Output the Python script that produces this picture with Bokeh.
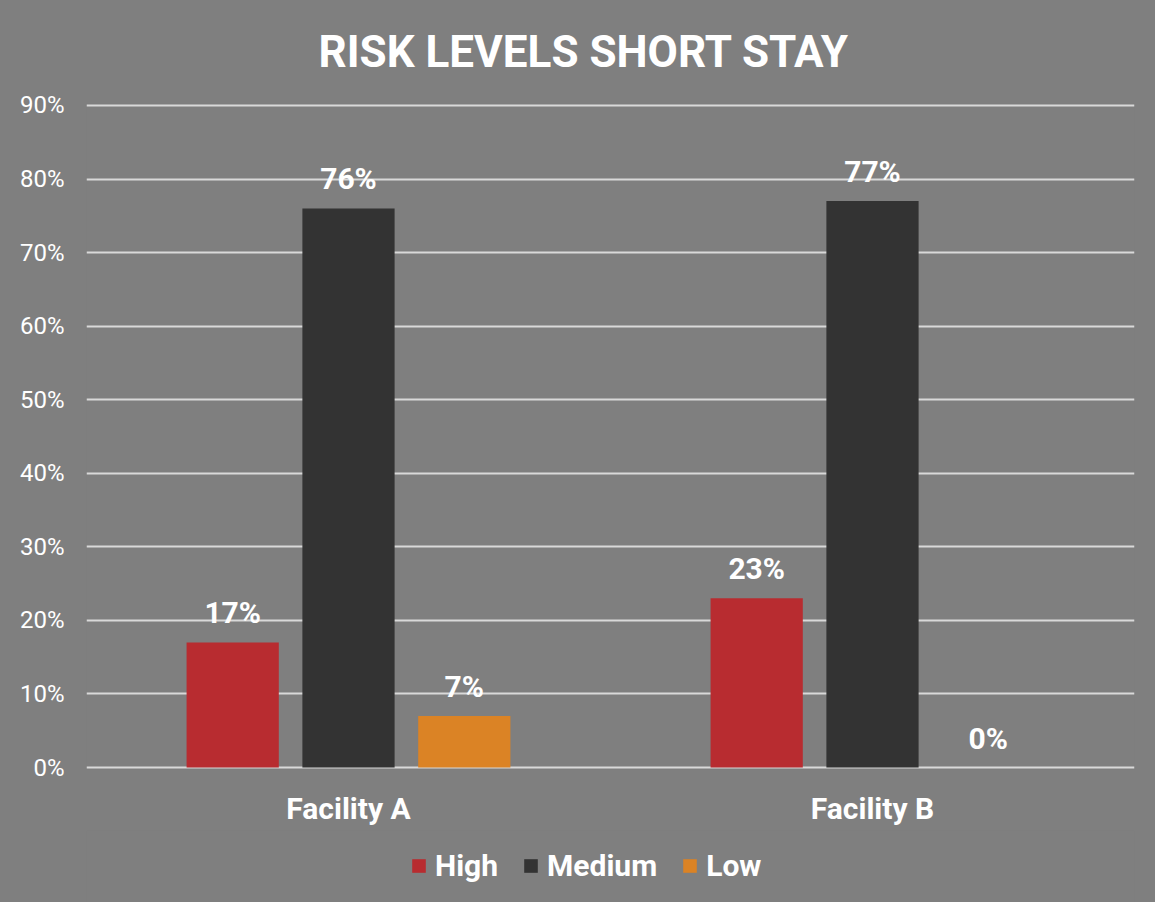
from bokeh.plotting import figure
from bokeh.models import ColumnDataSource, FactorRange, Legend, LegendItem, LabelSet, NumeralTickFormatter, FixedTicker, Range1d
from bokeh.layouts import column
from bokeh.core.properties import value
from bokeh.transform import dodge
from bokeh.embed import file_html
from bokeh.resources import INLINE

facilities = ["Facility A", "Facility B"]
high = [0.17, 0.23]
medium = [0.76, 0.77]
low = [0.07, 0.0]
series_names = ["High", "Medium", "Low"]
colors = ["#b82c30", "#333333", "#db8325"]
y_ticks = [0, 0.1, 0.2, 0.3, 0.4, 0.5, 0.6, 0.7, 0.8, 0.9]

BG = "#7f7f7f"
FONT = "Roboto"

src = ColumnDataSource(dict(
    fac=facilities, High=high, Medium=medium, Low=low,
    High_lbl=[f"{v*100:.0f}%" for v in high],
    Medium_lbl=[f"{v*100:.0f}%" for v in medium],
    Low_lbl=[f"{v*100:.0f}%" for v in low],
))

pad = 0.1 / 73.6 * 2  # two pixels of room so the 0% and 90% grid lines are not clipped
p = figure(x_range=FactorRange(*facilities, range_padding=0), y_range=Range1d(-pad, 0.9 + pad),
           width=1155, height=830, output_backend="svg", toolbar_location=None,
           min_border_left=86, min_border_right=21, min_border_top=103, min_border_bottom=61,
           background_fill_color=BG, border_fill_color=BG, outline_line_color=None)

p.title.text = "RISK LEVELS SHORT STAY"
p.title.text_font = FONT
p.title.text_font_size = "44px"
p.title.text_color = "white"
p.title.text_font_style = "bold"
p.title.align = "left"
p.title.offset = 232
p.title.standoff = 48
p.title.vertical_align = "top"

offsets = [-0.221, 0.0, 0.221]
renderers = []
for name, col, off in zip(series_names, colors, offsets):
    r = p.vbar(x=dodge("fac", off, range=p.x_range), top=name, width=0.176, source=src,
               fill_color=col, line_color=None)
    renderers.append(r)
    labels = LabelSet(x=dodge("fac", off, range=p.x_range), y=name, text=name + "_lbl", source=src,
                      text_align="center", text_baseline="bottom", y_offset=12,
                      text_color="white", text_font=value(FONT), text_font_size="30px",
                      text_font_style="bold")
    p.add_layout(labels)

yax = p.yaxis[0]
yax.ticker = FixedTicker(ticks=y_ticks)
yax.formatter = NumeralTickFormatter(format="0%")
yax.major_label_text_color = "white"
yax.major_label_text_font = FONT
yax.major_label_text_font_size = "24px"
yax.axis_line_color = None
yax.major_tick_line_color = None
yax.minor_tick_line_color = None
yax.major_label_standoff = 16

xax = p.xaxis[0]
xax.axis_line_color = None
xax.major_tick_line_color = None
xax.major_label_text_color = "white"
xax.major_label_text_font = FONT
xax.major_label_text_font_size = "30px"
xax.major_label_text_font_style = "bold"
xax.major_label_standoff = 15

p.xgrid.grid_line_color = None
p.ygrid.grid_line_color = "#d9d9d9"
p.ygrid.grid_line_width = 2

# legend strip below the chart
lg = figure(width=1155, height=72, output_backend="svg", toolbar_location=None,
            x_range=Range1d(0, 1), y_range=Range1d(0, 1),
            min_border_left=86, min_border_right=21, min_border_top=0, min_border_bottom=0,
            background_fill_color=BG, border_fill_color=BG, outline_line_color=None)
lg.axis.visible = False
lg.grid.visible = False
dummy = [lg.vbar(x="x", top="top", width=0, fill_color=c, line_color=None,
                 source=ColumnDataSource(dict(x=[0], top=[0]))) for c in colors]
legend = Legend(items=[LegendItem(label=n, renderers=[r]) for n, r in zip(series_names, dummy)],
                orientation="horizontal", location=(324, 19),
                background_fill_alpha=0, border_line_color=None,
                label_text_color="white", label_text_font=FONT, label_text_font_size="30px",
                label_text_font_style="bold", glyph_width=17, glyph_height=17, label_height=34,
                label_standoff=8, spacing=24, padding=0, margin=0)
lg.add_layout(legend)

layout = column(p, lg, spacing=0, styles={"background-color": BG})
open("out.html", "w").write(file_html(layout, INLINE))
